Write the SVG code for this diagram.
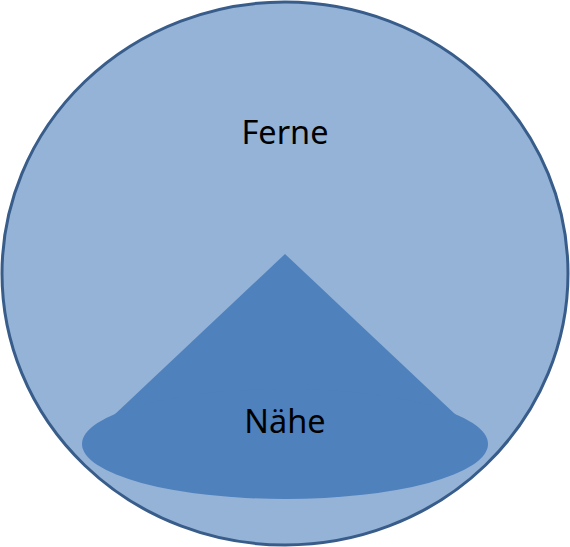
<svg xmlns="http://www.w3.org/2000/svg" width="570" height="547" viewBox="0 0 570 547">
<style>
.lbl{font-family:"Noto Sans","Open Sans",sans-serif;font-size:32.5px;fill:#000;text-anchor:middle}
</style>
<rect width="570" height="547" fill="#fff"/>
<g id="ferne">
<ellipse cx="285" cy="273.5" rx="283" ry="271.5" fill="#95B3D7" stroke="#385D8A" stroke-width="3"/>
<text class="lbl" x="285" y="144">Ferne</text>
</g>
<g id="naehe">
<polygon points="285,254 113,416 457,416" fill="#4F81BD"/>
<ellipse cx="285" cy="444" rx="203" ry="55" fill="#4F81BD"/>
<text class="lbl" x="285" y="433">Nähe</text>
</g>
<g id="connectors"/>
</svg>
